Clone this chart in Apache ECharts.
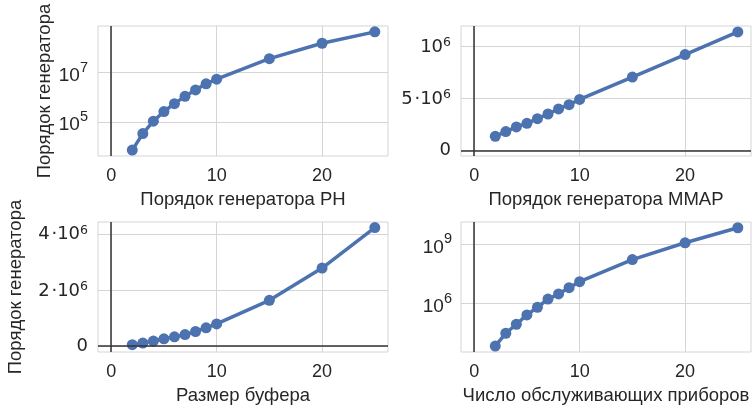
<!DOCTYPE html>
<html>
<head>
<meta charset="utf-8">
<script src="https://cdn.jsdelivr.net/npm/echarts@6/dist/echarts.min.js"></script>
<style>
html,body{margin:0;padding:0;background:#fff;}
#chart{width:755px;height:407px;}
</style>
</head>
<body>
<div id="chart"></div>
<script>
// общая ось X
var xValues = [2, 3, 4, 5, 6, 7, 8, 9, 10, 15, 20, 25];
var xTicks = [0, 10, 20];
var xRange = [-1.25, 26.25];

// Порядок генератора PH (лог. шкала)
var phOrder = [7.6e3, 3.5e4, 1.1e5, 2.7e5, 5.6e5, 1.1e6, 2.0e6, 3.5e6, 5.4e6, 3.6e7, 1.5e8, 4.3e8];
var phTicks = [1e5, 1e7];
var phLabels = ['10^5', '10^7'];
var phRange = [4.4e3, 7.4e8];

// Порядок генератора MMAP
var mmapOrder = [1.34e6, 1.79e6, 2.24e6, 2.58e6, 3.03e6, 3.48e6, 3.96e6, 4.37e6, 4.88e6, 7.02e6, 9.18e6, 11.35e6];
var mmapTicks = [0, 5e6, 10e6];
var mmapLabels = ['0', '5\u200a·10^6', '10^6'];
var mmapRange = [-0.55e6, 11.92e6];

// Размер буфера
var bufOrder = [0.05e6, 0.107e6, 0.18e6, 0.26e6, 0.33e6, 0.41e6, 0.52e6, 0.65e6, 0.79e6, 1.63e6, 2.78e6, 4.22e6];
var bufTicks = [0, 2e6, 4e6];
var bufLabels = ['0', '2\u200a·10^6', '4\u200a·10^6'];
var bufRange = [-0.21e6, 4.42e6];

// Число обслуживающих приборов (лог. шкала)
var srvOrder = [7.2e3, 3.2e4, 9.1e4, 2.7e5, 6.6e5, 1.7e6, 3.1e6, 6.4e6, 1.3e7, 1.7e8, 1.2e9, 6.9e9];
var srvTicks = [1e6, 1e9];
var srvLabels = ['10^6', '10^9'];
var srvRange = [3.6e3, 1.35e10];

var xNames = ['Порядок генератора PH', 'Порядок генератора MMAP', 'Размер буфера', 'Число обслуживающих приборов'];
var yName = 'Порядок генератора';

var textColor = '#262626';
var gridColor = '#d5d5d5';
var lineColor = '#4c72b0';
var sans = 'Liberation Sans';

// подпись вида 10^7 -> rich-текст со степенью
function richLabel(ticks, labels){
	return function(val){
		for (var i = 0; i < ticks.length; i++) {
			if (Math.abs(val - ticks[i]) <= Math.abs(ticks[i]) * 1e-6 + 1e-9) {
				var p = labels[i].split('^');
				return p.length > 1 ? '{b|' + p[0] + '}{s|' + p[1] + '}' : '{b|' + p[0] + '}';
			}
		}
		return '';
	};
}

var logRich = {
	b: {fontFamily: sans, fontSize: 19, color: textColor, verticalAlign: 'bottom'},
	s: {fontFamily: sans, fontSize: 14.5, color: textColor, verticalAlign: 'bottom', padding: [0, 0, 10, 0]}
};
var linRich = {
	b: {fontFamily: 'DejaVu Sans', fontSize: 18, color: textColor, verticalAlign: 'bottom'},
	s: {fontFamily: 'DejaVu Sans', fontSize: 12.5, color: textColor, verticalAlign: 'bottom', padding: [0, 0, 7, 0]}
};

var panels = [
	{left: 98,  top: 26,  data: phOrder,   log: true,  ticks: phTicks,   labels: phLabels,   range: phRange,   margin: 10, yName: true,  nameGap: 41},
	{left: 461, top: 26,  data: mmapOrder, log: false, ticks: mmapTicks, labels: mmapLabels, range: mmapRange, margin: 10, yName: false, nameGap: 0},
	{left: 98,  top: 222, data: bufOrder,  log: false, ticks: bufTicks,  labels: bufLabels,  range: bufRange,  margin: 10, yName: true,  nameGap: 73},
	{left: 461, top: 222, data: srvOrder,  log: true,  ticks: srvTicks,  labels: srvLabels,  range: srvRange,  margin: 9,  yName: false, nameGap: 0}
];

var grids = [], xAxes = [], yAxes = [], series = [];
panels.forEach(function(p, i){
	grids.push({
		left: p.left, top: p.top, width: 290, height: 130,
		show: true, borderColor: gridColor, borderWidth: 1
	});
	xAxes.push({
		type: 'value', gridIndex: i, min: xRange[0], max: xRange[1],
		name: xNames[i], nameLocation: 'middle', nameGap: 34,
		nameTextStyle: {fontFamily: sans, fontSize: 18.5, color: textColor},
		axisLine: {show: false},
		axisTick: {show: false, customValues: xTicks},
		axisLabel: {customValues: xTicks, margin: 11, fontFamily: sans, fontSize: 18, color: textColor},
		splitLine: {show: true, lineStyle: {color: gridColor, width: 1}}
	});
	yAxes.push({
		type: p.log ? 'log' : 'value', gridIndex: i, min: p.range[0], max: p.range[1],
		name: p.yName ? yName : '', nameLocation: 'middle', nameRotate: 90, nameGap: p.nameGap,
		nameTextStyle: {fontFamily: sans, fontSize: 18.5, color: textColor},
		axisLine: {show: false},
		axisTick: {show: false, customValues: p.ticks},
		axisLabel: {
			customValues: p.ticks, margin: p.margin,
			formatter: richLabel(p.ticks, p.labels),
			rich: p.log ? logRich : linRich
		},
		splitLine: {show: true, lineStyle: {color: gridColor, width: 1}}
	});
	var zeroLines = [{xAxis: 0}];
	if (!p.log) zeroLines.push({yAxis: 0});
	series.push({
		type: 'line', xAxisIndex: i, yAxisIndex: i,
		data: xValues.map(function(x, j){ return [x, p.data[j]]; }),
		symbol: 'circle', symbolSize: 11,
		lineStyle: {color: lineColor, width: 3.5},
		itemStyle: {color: lineColor},
		markLine: {
			silent: true, symbol: 'none', label: {show: false},
			lineStyle: {color: '#333333', width: 1.5, type: 'solid'},
			data: zeroLines
		}
	});
});

var myChart = echarts.init(document.getElementById('chart'));
myChart.setOption({
	animation: false,
	backgroundColor: '#ffffff',
	grid: grids,
	xAxis: xAxes,
	yAxis: yAxes,
	series: series
});
</script>
</body>
</html>
